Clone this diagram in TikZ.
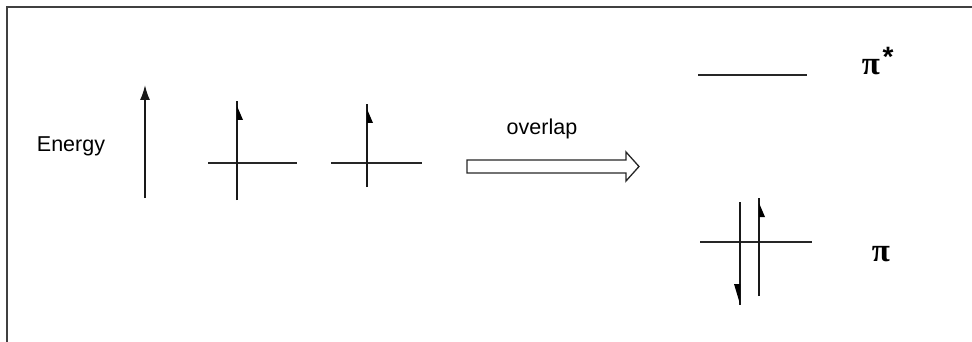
\documentclass[tikz,border=0pt]{standalone}
\usepackage{fontspec}
\setmainfont{Liberation Sans}
\newfontfamily\grk{Liberation Serif}
\usetikzlibrary{arrows.meta,calc}
\tikzset{
  lvl/.style={line width=1.6pt, draw=black!85},
  spin/.style={line width=1.6pt, draw=black!90},
  lbl/.style={inner sep=0pt, font=\fontsize{21.5}{24}\selectfont},
  greek/.style={inner sep=0pt, font=\grk\bfseries\fontsize{33}{36}\selectfont},
}
\begin{document}
\begin{tikzpicture}[x=1pt,y=-1pt]
\useasboundingbox (0,0) rectangle (972,342);
% frame
\draw[line width=2.2pt, black!75] (972,7) -- (7,7) -- (7,342);
% energy
\node[lbl] (energy) at (71,146) {Energy};
\coordinate (eb) at (145,198);
\coordinate (et) at (145,85);
\draw[spin, -{Latex[length=15pt,width=10pt]}] (eb) -- (et);
% atomic orbital 1
\coordinate (a1l) at (208,163); \coordinate (a1r) at (297,163);
\coordinate (a1t) at (237,101); \coordinate (a1b) at (237,200);
\draw[lvl] (a1l) -- (a1r);
\draw[spin] (a1b) -- (a1t);
\fill ($(a1t)+(0,1)$) -- ($(a1t)+(0,5)$) -- ($(a1t)+(6,19)$) -- ($(a1t)+(0,19)$) -- cycle;
% atomic orbital 2
\coordinate (a2l) at (331,163); \coordinate (a2r) at (422,163);
\coordinate (a2t) at (367,104); \coordinate (a2b) at (367,187);
\draw[lvl] (a2l) -- (a2r);
\draw[spin] (a2b) -- (a2t);
\fill ($(a2t)+(0,1)$) -- ($(a2t)+(0,5)$) -- ($(a2t)+(6,19)$) -- ($(a2t)+(0,19)$) -- cycle;
% overlap arrow
\node[lbl] (ov) at (542,129) {overlap};
\draw[line width=1.3pt, black!85] (467,160) -- (626,160) -- (626,152) -- (639,166.5) -- (626,181) -- (626,173) -- (467,173) -- cycle;
% pi* level
\coordinate (psl) at (698,75); \coordinate (psr) at (807,75);
\draw[lvl] (psl) -- (psr);
\node[greek] (pistar) at (871,67) {π};
\node[inner sep=0pt, font=\bfseries\fontsize{28}{30}\selectfont] (star) at (888,57) {*};
% pi level
\coordinate (pl) at (700,242); \coordinate (pr) at (812,242);
\draw[lvl] (pl) -- (pr);
\coordinate (d1t) at (740,202); \coordinate (d1b) at (740,305);
\coordinate (u1t) at (759,198); \coordinate (u1b) at (759,296);
\draw[spin] (d1t) -- (d1b);
\fill ($(d1b)+(0,-1)$) -- ($(d1b)+(0,-21)$) -- ($(d1b)+(-6,-21)$) -- cycle;
\draw[spin] (u1b) -- (u1t);
\fill ($(u1t)+(0,1)$) -- ($(u1t)+(0,5)$) -- ($(u1t)+(6,19)$) -- ($(u1t)+(0,19)$) -- cycle;
\node[greek] (pi) at (881,254) {π};
\end{tikzpicture}
\end{document}
